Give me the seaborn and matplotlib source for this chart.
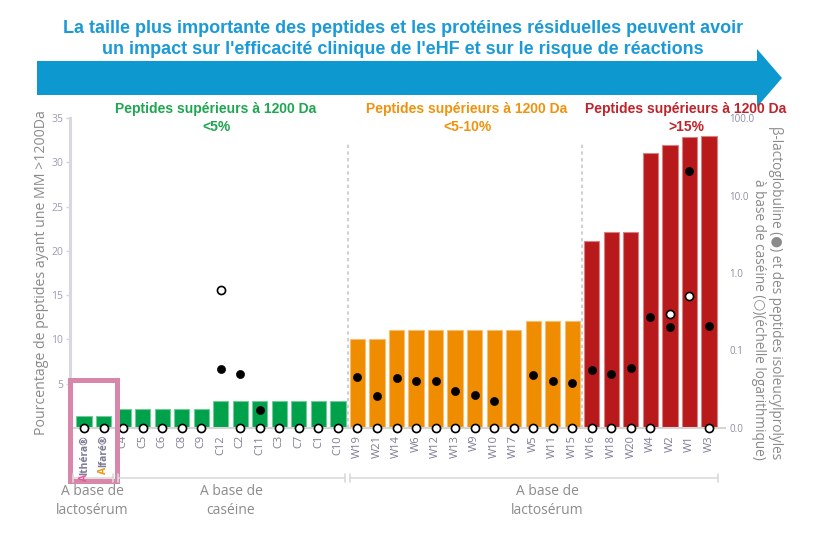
import numpy as np
import pandas as pd
import matplotlib
matplotlib.use('Agg')
import matplotlib.pyplot as plt
import seaborn as sns
from matplotlib.patches import Polygon, Rectangle
from matplotlib.lines import Line2D
from matplotlib.ticker import NullLocator

# data
names = ['Althéra', 'Alfaré', 'C4', 'C5', 'C6', 'C8', 'C9', 'C12', 'C2', 'C11', 'C3', 'C7', 'C1', 'C10',
         'W19', 'W21', 'W14', 'W6', 'W12', 'W13', 'W9', 'W10', 'W17', 'W5', 'W11', 'W15',
         'W16', 'W18', 'W20', 'W4', 'W2', 'W1', 'W3']
groups = ['<5%'] * 14 + ['<5-10%'] * 12 + ['>15%'] * 7
pct_large = [1.3, 1.3, 2.2, 2.2, 2.2, 2.2, 2.2, 3.1, 3.1, 3.1, 3.1, 3.1, 3.1, 3.1,
             10.1, 10.1, 11.1, 11.1, 11.1, 11.1, 11.1, 11.1, 11.1, 12.1, 12.1, 12.1,
             21.1, 22.1, 22.1, 31.0, 31.9, 32.9, 33.0]
nan = np.nan
blg = [nan, nan, nan, nan, nan, nan, nan, 0.058, 0.050, 0.017, nan, nan, nan, nan,
       0.046, 0.026, 0.044, 0.040, 0.040, 0.030, 0.027, 0.022, nan, 0.048, 0.040, 0.038,
       0.056, 0.050, 0.060, 0.27, 0.20, 21.0, 0.21]
ip_casein = [0.0] * 7 + [0.6] + [0.0] * 22 + [0.3, 0.5, 0.0]

palette = {'<5%': '#00a14b', '<5-10%': '#ef8c00', '>15%': '#b8191b'}
W, H = 815, 544


def fx(x):
    return x / W


def fy(y):
    return 1 - y / H


sns.set_theme(style='white')
plt.rcParams['font.family'] = ['Open Sans', 'DejaVu Sans']

df = pd.DataFrame({'name': names, 'pct': pct_large, 'group': groups})

fig = plt.figure(figsize=(W / 100, H / 100), dpi=100)
ax = fig.add_axes([fx(70), fy(428), 655 / W, 310 / H])

sns.barplot(data=df, x='name', y='pct', hue='group', palette=palette, order=names,
            dodge=False, width=0.78, saturation=1, legend=False, ax=ax, zorder=2)
for p in ax.patches:
    c = np.array(p.get_facecolor()[:3])
    p.set_edgecolor(tuple(c + (1 - c) * 0.45))
    p.set_linewidth(0.8)

ax.set_xlim(-0.72, 32.82)
ax.set_ylim(0, 35)
ax.set_yticks([5, 10, 15, 20, 25, 30, 35])
ax.tick_params(axis='y', length=3, width=1, color='#d5d5dc', labelsize=7.5,
               labelcolor='#9c9cb4', pad=2, left=True)
ax.tick_params(axis='x', length=0, pad=5, labelsize=8, labelcolor='#7c7c96', rotation=90)
for s in ['top', 'right']:
    ax.spines[s].set_visible(False)
ax.spines['left'].set_color('#d8d8e0')
ax.spines['left'].set_linewidth(2.2)
ax.spines['bottom'].set_color('#d5d5d5')
ax.spines['bottom'].set_linewidth(1.5)
ax.set_xlabel('')
ax.set_ylabel('Pourcentage de peptides ayant une MM >1200Da', fontsize=10.2, color='#8a8a8a')
ax.yaxis.set_label_coords(-21 / 655, 0.5)

# Althéra / Alfaré labels: grey body, coloured first letter
labels = [t.get_text() for t in ax.get_xticklabels()]
labels[0] = 'lthéra®'
labels[1] = 'lfaré®'
ax.set_xticks(range(len(names)))
ax.set_xticklabels(labels)
for t in ax.get_xticklabels()[:2]:
    t.set_fontweight('bold')
    t.set_fontsize(7.5)

# dividers between groups
ax.vlines([13.5, 25.5], 0, 32.2, colors='#c8c8c8', linestyles=(0, (2, 2)), lw=1.2, zorder=1)

# log-scale axis for the two kinds of dots
ax2 = ax.twinx()
ax2.set_yscale('log')
ax2.set_ylim(0.01, 100)
xpos = np.arange(len(names))
sns.scatterplot(x=xpos, y=blg, color='black', edgecolor='black', s=34, ax=ax2, legend=False, zorder=4)
sns.scatterplot(x=xpos, y=np.clip(ip_casein, 0.01, None), color='white', edgecolor='black',
                linewidth=1.2, s=34, ax=ax2, legend=False, zorder=4)
for c in ax2.collections:
    c.set_clip_on(False)
ax2.set_yticks([0.01, 0.1, 1, 10, 100])
ax2.set_yticklabels(['0.0', '0.1', '1.0', '10.0', '100.0'])
ax2.yaxis.set_minor_locator(NullLocator())
ax2.tick_params(axis='y', length=0, pad=3, labelsize=7, labelcolor='#8c8ca6')
for s in ax2.spines.values():
    s.set_visible(False)
ax2.set_xlim(-0.72, 32.82)

fig.text(fx(767), fy(293),
         'β-lactoglobuline (●) et des peptides isoleucylprolyles\nà base de caséine (○)(échelle logarithmique)',
         rotation=270, ha='center', va='center', multialignment='right',
         fontsize=9.8, color='#8a8a8a', linespacing=1.1)

# title and arrow
arrow = Polygon([(fx(37), fy(61)), (fx(757), fy(61)), (fx(757), fy(49)), (fx(782), fy(78)),
                 (fx(757), fy(107)), (fx(757), fy(95)), (fx(37), fy(95))],
                closed=True, transform=fig.transFigure, facecolor='#0d98d0', edgecolor='none')
fig.patches.append(arrow)
fig.text(fx(403), fy(39),
         "La taille plus importante des peptides et les protéines résiduelles peuvent avoir\n"
         "un impact sur l'efficacité clinique de l'eHF et sur le risque de réactions",
         ha='center', va='center', fontsize=13, fontweight='bold', color='#1b9ad6',
         family='Liberation Sans', linespacing=1.32)

# group headers
header_col = {'<5%': '#1ea650', '<5-10%': '#f0920e', '>15%': '#c0232a'}
for xc, g in [(216, '<5%'), (467, '<5-10%'), (686, '>15%')]:
    fig.text(fx(xc), fy(118), 'Peptides supérieurs à 1200 Da\n' + g, ha='center', va='center',
             fontsize=10, fontweight='bold', color=header_col[g], family='Liberation Sans',
             linespacing=1.4)

# bottom brackets
for x0, x1 in [(73, 113), (118, 345), (350, 718)]:
    fig.add_artist(Line2D([fx(x0), fx(x1)], [fy(478), fy(478)], color='#dadada', lw=1.2))
    for xe in (x0, x1):
        fig.add_artist(Line2D([fx(xe), fx(xe)], [fy(474), fy(482)], color='#dadada', lw=1.2))
for xc, txt in [(92, 'A base de\nlactosérum'), (231, 'A base de\ncaséine'), (547, 'A base de\nlactosérum')]:
    fig.text(fx(xc), fy(501), txt, ha='center', va='center', fontsize=10, color='#8c8c8c',
             linespacing=1.3)

fig.add_artist(Rectangle((fx(69.5), fy(480.5)), (116.5 - 69.5) / W, (480.5 - 379.5) / H,
                         transform=fig.transFigure, fill=False, edgecolor='#d886aa', lw=3.6))

fig.canvas.draw()
inv = fig.transFigure.inverted()
for t, col in zip(ax.get_xticklabels()[:2], ['#e8559a', '#ef9410']):
    bb = t.get_window_extent()
    px, py = inv.transform(((bb.x0 + bb.x1) / 2, bb.y0))
    fig.text(px, py + 0.001, 'A', rotation=90, ha='center', va='top', fontsize=7.5,
             fontweight='bold', color=col)

fig.savefig('out.png', dpi=100)
